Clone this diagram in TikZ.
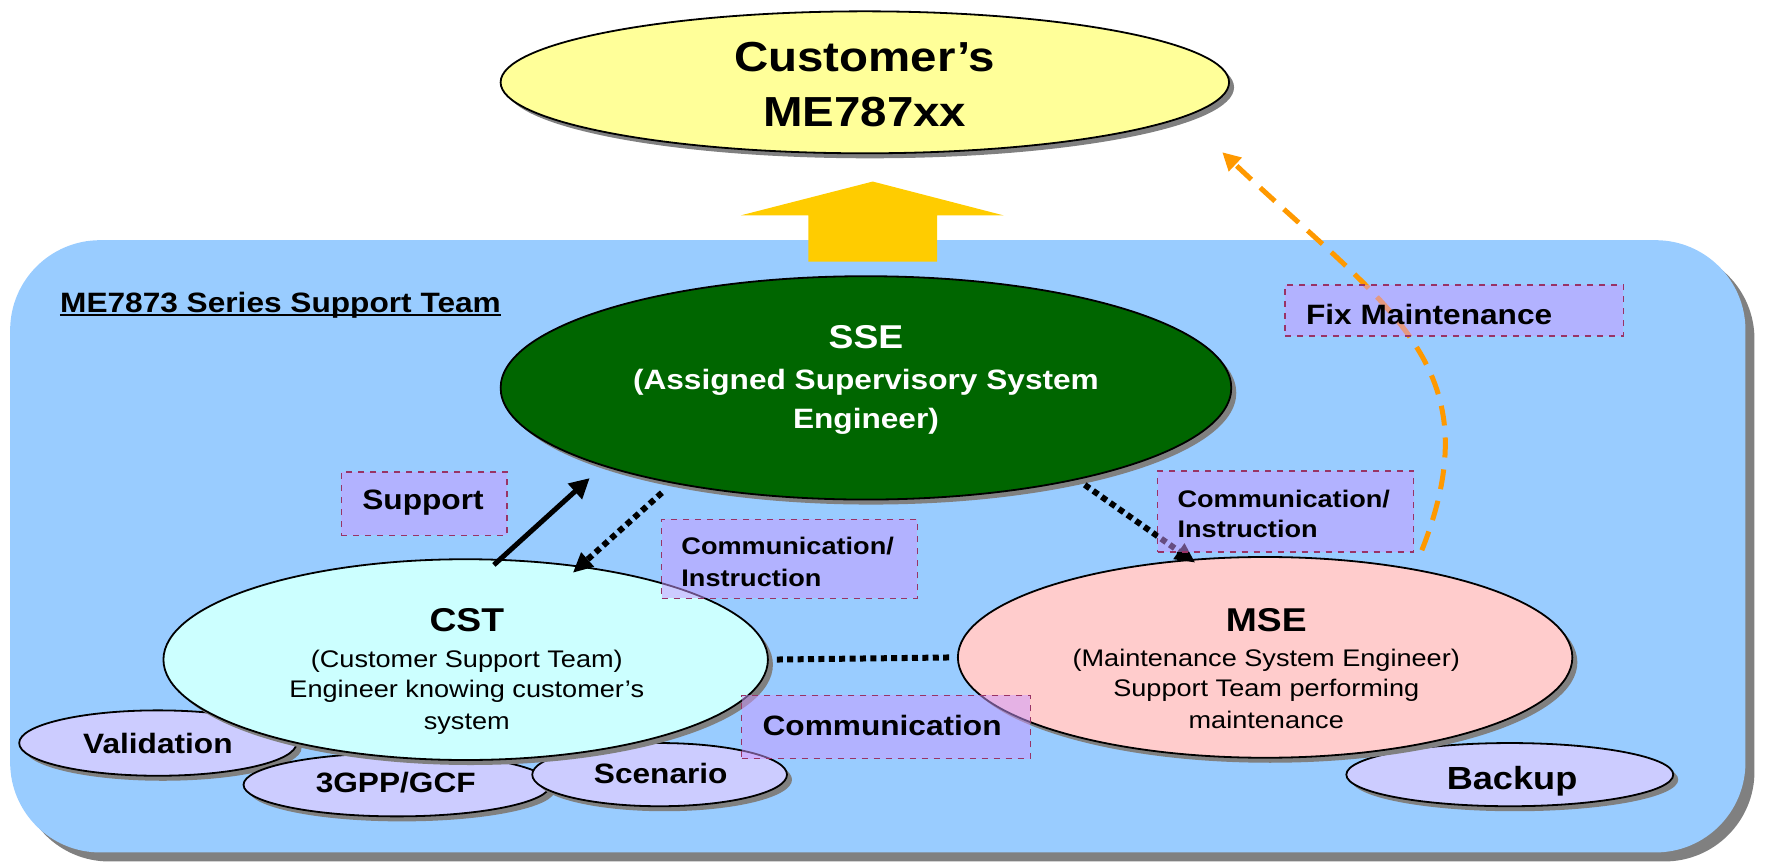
\documentclass[tikz,border=0pt]{standalone}
\usepackage{fontspec}
\setmainfont{Liberation Sans}[FakeStretch=1.13]
\usetikzlibrary{shapes.geometric,shadows,arrows.meta,calc}
\definecolor{teamblue}{HTML}{99CCFF}
\definecolor{custyellow}{HTML}{FFFF99}
\definecolor{arrowgold}{HTML}{FFCC00}
\definecolor{ssegreen}{HTML}{006600}
\definecolor{cstcyan}{HTML}{CCFFFF}
\definecolor{msepink}{HTML}{FFCCCC}
\definecolor{smalllav}{HTML}{CCCCFF}
\definecolor{tagfill}{HTML}{CC99FF}
\definecolor{tagborder}{HTML}{993366}
\definecolor{fixorange}{HTML}{FF9900}
\definecolor{shadowgray}{HTML}{808080}
\begin{document}
\begin{tikzpicture}[x=0.5639pt,y=-0.5639pt,
  shad/.style={drop shadow={shadow xshift=2.5pt,shadow yshift=-2.5pt,opacity=1,fill=shadowgray}},
  oval/.style={ellipse,draw=black,line width=0.9pt,inner sep=0,shad},
  lbl/.style={inner sep=0,anchor=base},
  lblw/.style={inner sep=0,anchor=base west},
  tag/.style={draw=tagborder,dashed,line width=0.8pt,fill=tagfill,fill opacity=0.5,inner sep=0,anchor=north west},
  dotline/.style={line width=3pt,dash pattern=on 3pt off 2.2pt},
  fbig/.style={font=\fontsize{21}{25}\selectfont\bfseries},
  fhead/.style={font=\fontsize{16.5}{19}\selectfont\bfseries},
  fmid/.style={font=\fontsize{14}{17}\selectfont\bfseries},
  fsmallb/.style={font=\fontsize{12}{14}\selectfont\bfseries},
  fsub/.style={font=\fontsize{12}{14}\selectfont},
]
\useasboundingbox (0,0) rectangle (1568,766);
% team background
\fill[shadowgray,rounded corners=45pt] (17,221) rectangle (1556,764);
\fill[teamblue,rounded corners=45pt] (9,213) rectangle (1548,756);
% yellow block arrow
\fill[arrowgold] (717,232) -- (717,191) -- (657,191) -- (774,161) -- (890,191) -- (831,191) -- (831,232) -- cycle;
% top ellipse
\node[oval,fill=custyellow,minimum width=364.3pt,minimum height=71pt] (cust) at (767,73) {};
\node[lbl,fbig] (custt1) at (767,63) {Customer’s};
\node[lbl,fbig] (custt2) at (767,112.6) {ME787xx};
% title
\node[lblw,fmid] (title) at (53,277) {ME7873 Series Support Team};
\draw[line width=1pt] ($(title.base west)+(0,2.7)$) -- ($(title.base east)+(0,2.7)$);
% SSE
\node[oval,fill=ssegreen,minimum width=365.4pt,minimum height=111.7pt] (sse) at (768,344) {};
\node[lbl,fhead,white] (sset1) at (768,309) {SSE};
\node[lbl,fmid,white] (sset2) at (768,345) {(Assigned Supervisory System};
\node[lbl,fmid,white] (sset3) at (768,380) {Engineer)};
% small ellipses around CST
\node[oval,fill=smalllav,minimum width=138.7pt,minimum height=32.7pt] (valid) at (140,659) {};
\node[lbl,fmid] (validt) at (140,668) {Validation};
\node[oval,fill=smalllav,minimum width=153.4pt,minimum height=31.6pt] (gpp) at (352,696) {};
\node[lbl,fmid] (gppt) at (351,703) {3GPP/GCF};
\node[oval,fill=smalllav,minimum width=127.4pt,minimum height=31.6pt] (scen) at (585,687) {};
\node[lbl,fmid] (scent) at (586,695) {Scenario};
% CST
\node[oval,fill=cstcyan,minimum width=302.3pt,minimum height=100.4pt] (cst) at (413,585) {};
\node[lbl,fhead] (cstt1) at (414,560) {CST};
\node[lbl,fsub] (cstt2) at (414,592) {(Customer Support Team)};
\node[lbl,fsub] (cstt3) at (414,619) {Engineer knowing customer’s};
\node[lbl,fsub] (cstt4) at (414,647) {system};
% Backup and MSE
\node[oval,fill=smalllav,minimum width=163.5pt,minimum height=31.6pt] (backup) at (1339,687) {};
\node[lbl,font=\fontsize{16}{19}\selectfont\bfseries] (backupt) at (1341,700) {Backup};
\node[oval,fill=msepink,minimum width=307.3pt,minimum height=100.4pt] (mse) at (1122,583) {};
\node[lbl,fhead] (mset1) at (1123,560) {MSE};
\node[lbl,fsub] (mset2) at (1123,591) {(Maintenance System Engineer)};
\node[lbl,fsub] (mset3) at (1123,618) {Support Team performing};
\node[lbl,fsub] (mset4) at (1123,646) {maintenance};
% connectors
\draw[line width=2.5pt,-{Triangle[length=10pt,width=10pt]}] ($(cst.center)+(25,-84)$) -- ($(sse.center)+(-245,80)$);
\draw[dotline,-{Triangle[length=10pt,width=9pt]}] ($(sse.center)+(-181,93)$) -- ($(cst.center)+(95,-77)$);
\draw[dotline,-{Triangle[length=10pt,width=9pt]}] ($(sse.center)+(194,86)$) -- ($(mse.center)+(-62,-84)$);
\draw[dotline,shorten <=4pt,shorten >=3pt] (cst.east) -- (mse.west);
\draw[fixorange,line width=2.5pt,dash pattern=on 10pt off 6pt,-{Triangle[length=9pt,width=9pt]}]
  ($(mse.center)+(139,-95)$) .. controls ($(mse.center)+(204,-260)$) and ($(cust.center)+(463,200)$) .. ($(cust.center)+(317,62)$);
% labels in dashed boxes
\node[tag,minimum width=82.9pt,minimum height=31.6pt] (supbox) at (302,418) {};
\node[lblw,fmid] (supt) at (321,452) {Support};
\node[tag,minimum width=128pt,minimum height=39.5pt] (ci1box) at (586,460) {};
\node[lblw,fsmallb] (ci1t1) at (604,492) {Communication/};
\node[lblw,fsmallb] (ci1t2) at (604,520) {Instruction};
\node[tag,minimum width=128pt,minimum height=40.6pt] (ci2box) at (1026,417) {};
\node[lblw,fsmallb] (ci2t1) at (1044,450) {Communication/};
\node[lblw,fsmallb] (ci2t2) at (1044,477) {Instruction};
\node[tag,minimum width=169.2pt,minimum height=25.4pt] (fixbox) at (1139,252) {};
\node[lblw,fmid] (fixt) at (1158,288) {Fix Maintenance};
\node[tag,minimum width=144.4pt,minimum height=31.6pt] (combox) at (657,616) {};
\node[lblw,fmid] (comt) at (676,652) {Communication};
\end{tikzpicture}
\end{document}
